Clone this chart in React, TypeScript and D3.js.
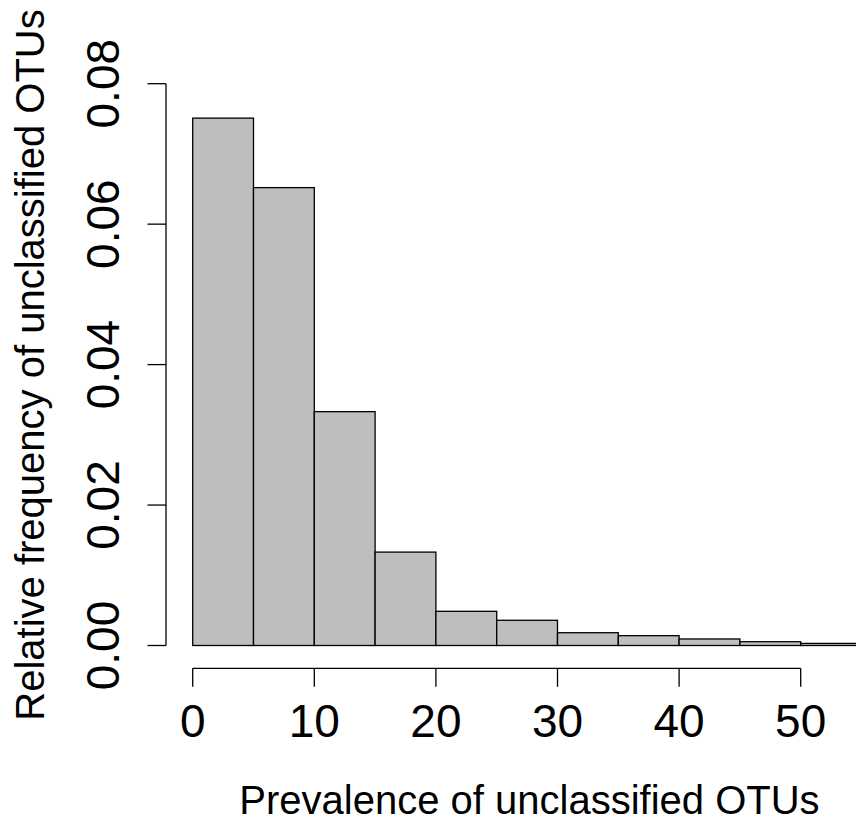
import React from "react";
import * as d3 from "d3";

const binStarts = [0, 5, 10, 15, 20, 25, 30, 35, 40, 45, 50];
const binWidth = 5;
const frequencies = [0.0751, 0.0652, 0.0333, 0.0133, 0.00487, 0.00359, 0.00182, 0.0014, 0.00093, 0.00054, 0.0003];
const xTicks = [0, 10, 20, 30, 40, 50];
const yTicks = [0, 0.02, 0.04, 0.06, 0.08];
const xTitle = "Prevalence of unclassified OTUs";
const yTitle = "Relative frequency of unclassified OTUs";

const W = 856;
const H = 819;

export default function App() {
  const x = d3.scaleLinear().domain([0, 50]).range([192.7, 800.7]);
  const y = d3.scaleLinear().domain([0, 0.08]).range([645.5, 83.7]);
  const font = "'Liberation Sans', Arial, Helvetica, sans-serif";
  const axisY = 668.3;
  const axisX = 166;
  const tick = 18.5;
  const lw = 1.3;
  const fmt = d3.format(".2f");

  return (
    <svg width={W} height={H} style={{ position: "absolute", left: 0, top: 0, background: "#fff" }}>
      <defs>
        <clipPath id="clip">
          <rect x={0} y={0} width={W} height={H} />
        </clipPath>
      </defs>
      <g clipPath="url(#clip)">
        {binStarts.map((s, i) => (
          <rect
            key={i}
            x={x(s)}
            y={y(frequencies[i])}
            width={x(s + binWidth) - x(s)}
            height={y(0) - y(frequencies[i])}
            fill="#BEBEBE"
            stroke="#000"
            strokeWidth={lw}
          />
        ))}
      </g>
      {/* x axis */}
      <line x1={x(xTicks[0])} x2={x(xTicks[xTicks.length - 1])} y1={axisY} y2={axisY} stroke="#000" strokeWidth={lw} />
      {xTicks.map((t) => (
        <g key={t}>
          <line x1={x(t)} x2={x(t)} y1={axisY} y2={axisY + tick} stroke="#000" strokeWidth={lw} />
          <text x={x(t)} y={737} textAnchor="middle" fontFamily={font} fontSize={46} fill="#000">
            {t}
          </text>
        </g>
      ))}
      {/* y axis */}
      <line x1={axisX} x2={axisX} y1={y(yTicks[0])} y2={y(yTicks[yTicks.length - 1])} stroke="#000" strokeWidth={lw} />
      {yTicks.map((t) => (
        <g key={t}>
          <line x1={axisX} x2={axisX - tick} y1={y(t)} y2={y(t)} stroke="#000" strokeWidth={lw} />
          <text
            transform={`translate(119,${y(t)}) rotate(-90)`}
            textAnchor="middle"
            fontFamily={font}
            fontSize={46}
            fill="#000"
          >
            {fmt(t)}
          </text>
        </g>
      ))}
      <text x={529.5} y={813.5} textAnchor="middle" fontFamily={font} fontSize={40} fill="#000">
        {xTitle}
      </text>
      <text
        transform={`translate(43.5,${365}) rotate(-90)`}
        textAnchor="middle"
        fontFamily={font}
        fontSize={40}
        fill="#000"
      >
        {yTitle}
      </text>
    </svg>
  );
}
